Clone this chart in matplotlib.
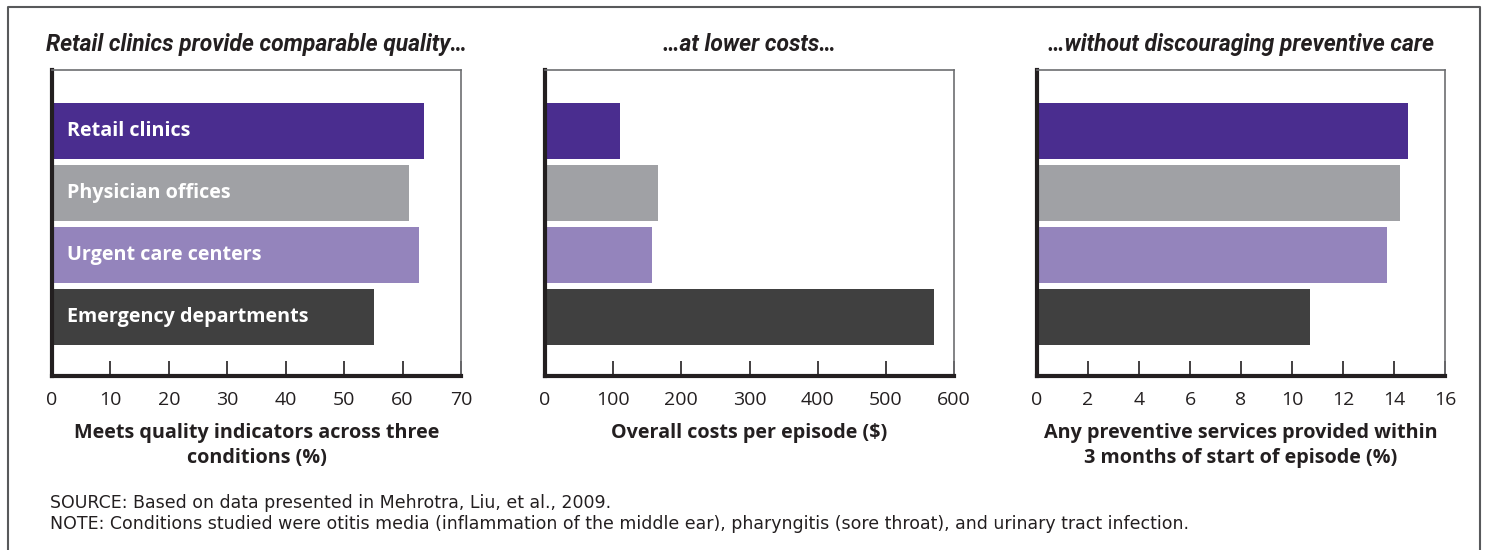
import numpy as np
import matplotlib.pyplot as plt

# Data
settings = ['Retail clinics', 'Physician offices', 'Urgent care centers', 'Emergency departments']
colors = ['#4a2d8f', '#a0a1a5', '#9484bc', '#404040']

quality = [63.7, 61.1, 62.8, 55.1]
costs = [110, 166, 157, 571]
preventive = [14.55, 14.24, 13.72, 10.7]

titles = ['Retail clinics provide comparable quality\u2026',
          '\u2026at lower costs\u2026',
          '\u2026without discouraging preventive care']
xlabels = ['Meets quality indicators across three\nconditions (%)',
           'Overall costs per episode ($)',
           'Any preventive services provided within\n3 months of start of episode (%)']
xmax = [70, 600, 16]
xticks = [np.arange(0, 71, 10), np.arange(0, 601, 100), np.arange(0, 17, 2)]

plt.rcParams['font.family'] = ['Open Sans', 'DejaVu Sans']

fig = plt.figure(figsize=(14.85, 5.5), dpi=100)

lefts = [52, 545, 1037]
widths = [409, 409, 408]
y_pos = np.arange(len(settings))

for i, vals in enumerate([quality, costs, preventive]):
    ax = fig.add_axes([lefts[i] / 1485, 1 - 376 / 550, widths[i] / 1485, 306 / 550])
    ax.barh(y_pos, vals, height=0.903, color=colors, zorder=2)
    ax.set_xlim(0, xmax[i])
    ax.set_ylim(3.95, -0.984)
    ax.set_yticks([])
    ax.set_xticks(xticks[i])
    ax.set_xticklabels([str(t) for t in xticks[i]], fontsize=14, color='#231f20')
    ax.tick_params(axis='x', direction='in', length=11, width=1.2, color='#231f20', pad=11)
    for side in ['left', 'bottom']:
        ax.spines[side].set_linewidth(3)
        ax.spines[side].set_color('#231f20')
    for side in ['top', 'right']:
        ax.spines[side].set_linewidth(1.2)
        ax.spines[side].set_color('#6d6e71')
    ax.set_xlabel(xlabels[i], fontsize=14.2, fontweight='bold', color='#231f20', labelpad=10,
                  linespacing=1.35)
    ax.set_title(titles[i], fontsize=16.5, fontweight='bold', style='italic', color='#231f20',
                 pad=14, family=['Roboto', 'DejaVu Sans'])
    if i == 0:
        for j, name in enumerate(settings):
            ax.text(2.6, j, name, color='white', fontsize=14.2, fontweight='bold', va='center',
                    ha='left', zorder=3)

# footnotes
fig.text(50 / 1485, 1 - 503 / 550, 'SOURCE: Based on data presented in Mehrotra, Liu, et al., 2009.',
         fontsize=12.5, color='#231f20', va='center', family=['DejaVu Sans'])
fig.text(50 / 1485, 1 - 524 / 550,
         'NOTE: Conditions studied were otitis media (inflammation of the middle ear), '
         'pharyngitis (sore throat), and urinary tract infection.',
         fontsize=12.5, color='#231f20', va='center', family=['DejaVu Sans'])

# outer frame (left, top, right)
x0, x1, yt = 8 / 1485, 1480 / 1485, 1 - 7 / 550
fig.add_artist(plt.Line2D([x0, x0, x1, x1], [0, yt, yt, 0], transform=fig.transFigure,
                          color='#58595b', linewidth=1.5))

fig.savefig('out.png', dpi=100)
